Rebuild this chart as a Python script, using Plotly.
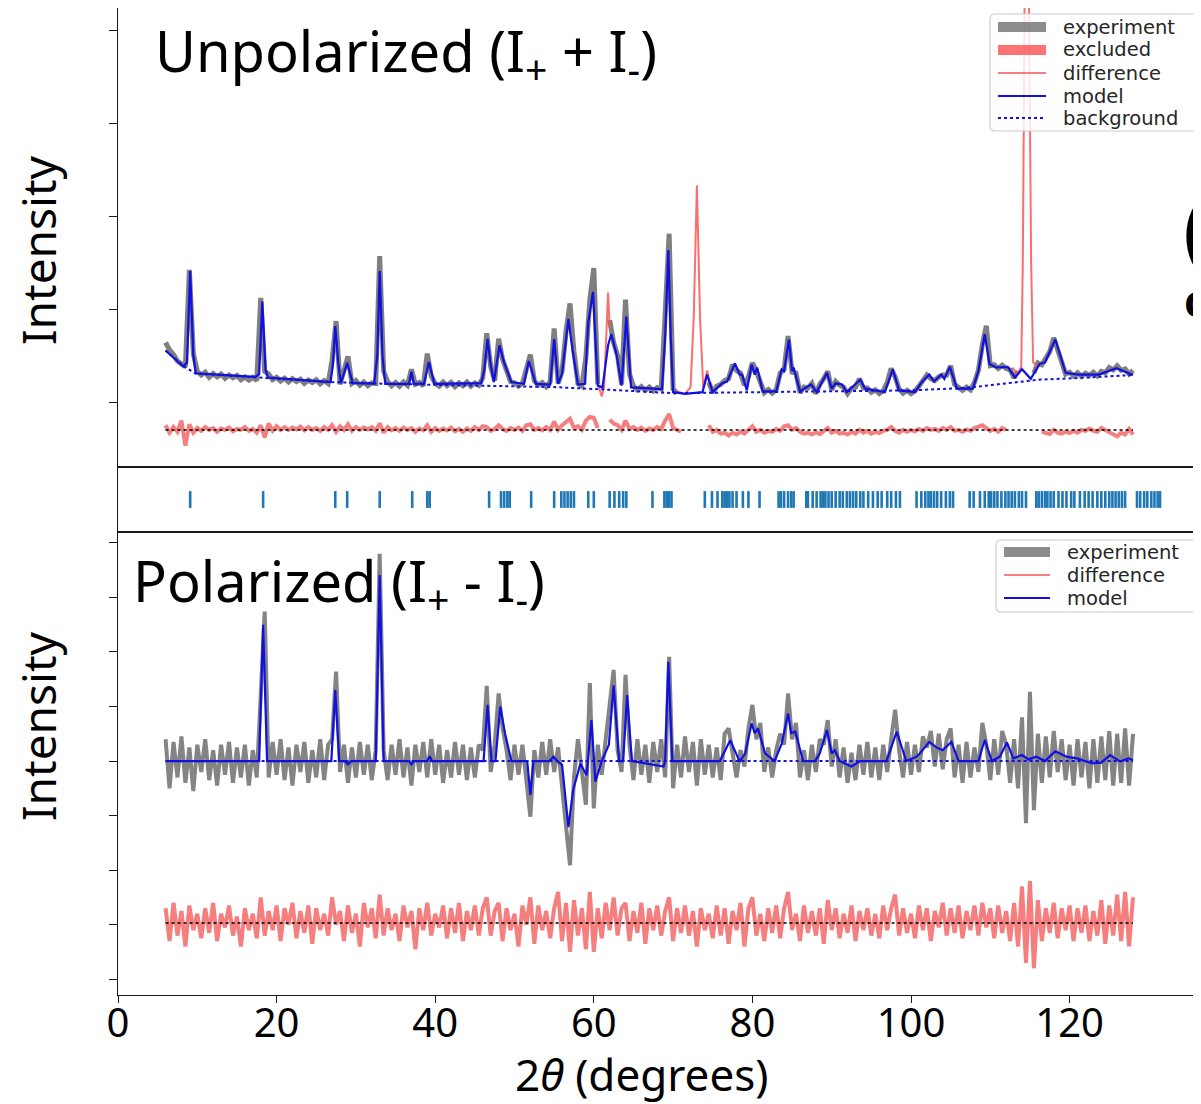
import plotly.graph_objects as go

# ============================ DATA ============================
# 2-theta sampling grid of the measured patterns (degrees)
GRID_START = 6.0
GRID_STEP = 0.5

# Unpolarized experiment (I+ + I-), one value per grid point (None = excluded)
UP_EXP = [
    640, 560, 510, 440, 410, 380, 1420, 520, 330, 290,
    320, 265, 305, 270, 300, 255, 290, 260, 285, 240,
    270, 235, 265, 230, 1120, 330, 300, 240, 265, 225,
    255, 215, 250, 220, 245, 200, 235, 210, 240, 195,
    230, 200, 450, 870, 190, 330, 490, 200, 230, 180,
    215, 175, 205, 200, 1570, 330, 220, 175, 210, 170,
    215, 180, 350, 190, 210, 175, 520, 280, 200, 170,
    215, 175, 210, 165, 205, 175, 215, 170, 205, 180,
    260, 740, 380, 230, 680, 460, 320, 220, 205, 170,
    200, 360, 510, 230, 180, 210, 165, 220, 790, 200,
    330, 760, 1060, 540, 200, 170, 480, 1100, 1440, 190,
    None, None, 880, 640, 500, 190, 1100, 300, 170, 130,
    165, 125, 160, 120, 155, 140, 950, 1810, 140, 95,
    None, None, None, None, None, None, None, 210, 100, 170,
    190, 230, 250, 400, 340, 310, 180, 270, 420, 330,
    210, 100, 135, 95, 130, 310, 350, 710, 320, 310,
    100, 160, 150, 200, 90, 190, 250, 330, 130, 220,
    180, 160, 90, 145, 160, 250, 150, 150, 105, 130,
    90, 120, 210, 360, 270, 140, 95, 125, 90, 120,
    170, 220, 290, 250, 230, 270, 290, 290, 390, 190,
    160, 125, 160, 130, 210, 340, 620, 820, 390, 400,
    360, 395, 360, 345, 260, 330, None, None, None, 310,
    420, 400, 460, 540, 690, 560, 440, 300, 320, 280,
    315, 275, 310, 285, 320, 280, 330, 315, 370, 345,
    390, 340, 355, 300, 340,
]

# Unpolarized difference curve (offset below the pattern)
UP_DIFF = [
    -250, -330, -270, -320, -200, -470, -240, -330, -280, -310,
    -270, -300, -280, -320, -285, -300, -275, -315, -290, -300,
    -270, -310, -290, -330, -250, -380, -230, -310, -260, -300,
    -270, -300, -275, -295, -265, -305, -270, -300, -280, -310,
    -270, -300, -250, -320, -260, -300, -240, -310, -270, -300,
    -275, -295, -270, -310, -230, -330, -270, -305, -280, -310,
    -275, -300, -280, -320, -285, -305, -250, -320, -280, -310,
    -285, -305, -275, -315, -290, -320, -285, -310, -270, -300,
    -260, -270, -310, -290, -250, -290, -310, -280, -300, -275,
    -310, -250, -240, -300, -280, -305, -270, -300, -210, -300,
    -250, -220, -180, -280, -260, -300, -200, -160, -170, -280,
    None, None, -190, -230, -250, -300, -200, -290, -270, -300,
    -275, -310, -285, -300, -270, -290, -200, -130, -280, -300,
    -320, None, None, None, None, None, None, -250, -320, -300,
    -340, -330, -360, -330, -350, -320, -340, -300, -260, -320,
    -300, -330, -310, -320, -290, -310, -260, -250, -300, -280,
    -320, -340, -330, -350, -325, -345, -310, -280, -330, -310,
    -340, -330, -350, -320, -340, -300, -330, -310, -340, -320,
    -335, -310, -300, -270, -310, -330, -300, -320, -300, -315,
    -290, -310, -280, -300, -290, -310, -280, -300, -270, -310,
    -300, -320, -295, -310, -280, -270, -250, -280, -310, -290,
    -320, -280, -300, None, None, None, None, None, None, None,
    None, -320, -330, -345, -300, -330, -340, -320, -335, -310,
    -330, -300, -310, -285, -310, -320, -280, -300, -330, -350,
    -370, -330, -350, -290, -350,
]

# Polarized experiment (I+ - I-)
LO_EXP = [
    40, -50, 35, -30, 45, -40, 25, -55, 30, -20,
    40, -35, 20, -45, 30, -25, 35, -40, 25, -30,
    30, -45, 20, -30, 120, 274, -30, 35, -25, 40,
    -35, 25, -45, 30, -20, 35, -40, 20, -30, 40,
    -35, 30, 40, 164, -20, 30, -40, 25, -30, 35,
    -25, 30, -35, 20, 380, 20, -35, 30, -25, 40,
    -30, 25, -45, 30, -20, 35, -30, 40, -25, 30,
    -40, 20, -30, 35, -25, 30, -35, 25, -30, 30,
    20, 138, -20, 30, 124, 60, 20, -35, 30, -25,
    30, -40, -102, 20, -30, 35, -25, 40, -20, 25,
    -40, -120, -191, -30, 40, -25, -80, 143, -87, 30,
    -25, 40, 100, 167, 20, -20, 158, 30, -35, 40,
    -25, 30, -40, 35, -20, 40, -30, 191, -50, 30,
    -30, 45, -20, 35, -45, 40, -25, 30, -30, 25,
    -35, 50, 60, 10, -30, 20, -10, 60, 103, 40,
    70, -20, 25, -30, 20, 50, 30, 124, 40, 70,
    -30, 20, -35, 30, -20, 40, 30, 75, -10, 40,
    -30, 25, -40, 15, -35, 30, -25, 35, -30, 25,
    -35, 30, -20, 40, 94, 20, -30, 35, -25, 30,
    -20, 45, 25, 55, -10, 50, -15, 40, 60, -30,
    30, -40, 35, -30, 25, -20, 70, 30, -35, 40,
    -25, 55, 30, -40, 40, -50, 80, -114, 127, -90,
    50, -40, 45, -30, 55, -20, 40, -35, 30, -45,
    40, -30, 35, -50, 40, -40, 45, -35, 55, -45,
    50, -40, 60, -45, 50,
]

# Polarized difference curve (offset below the pattern)
LO_DIFF = [
    -270, -330, -260, -320, -275, -340, -265, -310, -280, -325,
    -270, -315, -260, -330, -280, -305, -265, -320, -285, -340,
    -270, -310, -280, -325, -250, -320, -275, -310, -265, -330,
    -270, -300, -260, -325, -275, -315, -265, -335, -270, -310,
    -280, -320, -250, -300, -275, -330, -265, -315, -280, -340,
    -260, -305, -270, -325, -245, -320, -270, -310, -280, -330,
    -265, -305, -275, -345, -270, -310, -260, -320, -280, -305,
    -265, -325, -270, -315, -260, -330, -275, -310, -265, -320,
    -270, -250, -320, -275, -260, -330, -270, -310, -280, -340,
    -265, -300, -250, -335, -265, -310, -275, -325, -270, -240,
    -330, -260, -350, -255, -320, -270, -345, -240, -350, -270,
    -325, -260, -310, -250, -320, -270, -260, -330, -275, -315,
    -260, -335, -270, -310, -265, -320, -275, -250, -330, -270,
    -315, -265, -320, -275, -340, -270, -310, -280, -325, -265,
    -320, -270, -335, -275, -310, -260, -340, -270, -250, -320,
    -280, -330, -270, -315, -265, -325, -270, -240, -310, -280,
    -330, -265, -315, -275, -320, -270, -335, -255, -310, -270,
    -325, -280, -315, -265, -330, -275, -310, -270, -320, -280,
    -325, -265, -310, -270, -245, -320, -270, -315, -280, -325,
    -265, -310, -270, -330, -275, -305, -260, -320, -270, -315,
    -265, -325, -275, -310, -265, -320, -260, -305, -270, -325,
    -265, -315, -275, -330, -260, -340, -230, -370, -220, -380,
    -255, -330, -270, -315, -260, -325, -270, -310, -265, -330,
    -270, -315, -265, -330, -275, -320, -255, -335, -265, -320,
    -245, -330, -240, -340, -250,
]

# Fitted model, unpolarized: (2theta, intensity)
UP_MODEL = [
    (6.0, 554), (8.2, 384), (8.7, 420), (9.1, 1409), (9.5, 500), (9.8, 309),
    (17.3, 271), (17.8, 300), (18.2, 1081), (18.6, 350), (18.9, 263),
    (26.8, 214), (27.1, 400), (27.4, 817), (27.8, 400), (28.1, 202), (28.9, 421), (29.6, 202),
    (32.3, 197), (32.7, 500), (33.0, 1409), (33.35, 500), (33.7, 195),
    (36.7, 195), (37.0, 327), (37.3, 195), (38.6, 200), (39.2, 429), (39.9, 195),
    (45.8, 202), (46.2, 350), (46.6, 678), (47.0, 400), (47.4, 214), (48.1, 609), (48.7, 421), (49.6, 214),
    (51.2, 195), (51.8, 441), (52.7, 195), (54.5, 187), (55.0, 677), (55.5, 195),
    (56.0, 309), (56.8, 893), (57.3, 572), (58.0, 187), (58.9, 195), (59.3, 855), (59.9, 1184), (60.5, 176),
    (61.1, 157), (61.8, 609), (62.2, 731), (62.9, 497), (63.5, 176), (64.1, 919), (64.7, 157),
    (68.6, 139), (69.0, 700), (69.4, 1634), (69.7, 700), (70.0, 106), (71.5, 87), (73.7, 106),
    (74.3, 295), (75.0, 108), (76.2, 201), (76.8, 219), (77.8, 416), (78.4, 295), (78.7, 295), (79.3, 125),
    (79.9, 401), (80.3, 295), (80.6, 371), (81.3, 114), (83.0, 114), (83.7, 352), (84.0, 333), (84.6, 672),
    (85.0, 333), (85.2, 371), (86.0, 114), (87.4, 189), (88.1, 106), (89.4, 314), (90.0, 144), (90.5, 201),
    (91.3, 189), (91.9, 106), (93.6, 239), (94.2, 144), (95.4, 125), (96.7, 106), (97.7, 352), (98.5, 125),
    (100.5, 106), (101.4, 219), (102.3, 295), (102.9, 219), (103.8, 295), (104.2, 249), (104.9, 378),
    (105.8, 144), (107.8, 144), (108.5, 333), (109.3, 729), (109.9, 408), (110.7, 371), (112.2, 378),
    (113.1, 264), (114.0, 352), (115.1, 249), (116.2, 408), (116.9, 427), (118.2, 672), (119.5, 314),
    (121.1, 295), (123.7, 295), (125.9, 364), (127.3, 314), (128.0, 290),
]

# Background, unpolarized
UP_BACKGROUND = [
    (6.0, 554), (8.3, 384), (9.8, 305), (17.3, 268), (27.0, 214), (35.0, 193),
    (45.0, 180), (55.0, 160), (60.0, 140), (70.0, 95), (80.0, 105), (90.0, 112),
    (100.0, 125), (107.0, 152), (116.0, 239), (122.0, 262), (128.0, 290),
]

# Excluded regions of the unpolarized pattern
UP_EXCLUDED = [
    [(60.6, 170), (61.0, 60), (61.3, 160), (61.6, 700), (61.8, 1176), (62.0, 800)],
    [(70.6, 110), (71.5, 87), (72.2, 160), (72.6, 900), (73.0, 2332), (73.4, 900),
     (73.8, 160), (74.1, 260), (74.3, 340), (74.6, 190)],
    [(112.8, 370), (113.4, 300), (113.9, 380), (114.1, 1500), (114.35, 4600),
     (114.85, 4600), (115.15, 1500), (115.4, 430), (115.9, 380), (116.3, 420)],
]

# Fitted model, polarized
LO_MODEL = [
    (6.0, 0), (17.8, 0), (18.3, 250), (18.8, 0), (26.9, 0), (27.4, 130), (27.9, 0),
    (28.6, 0), (29.0, -6), (29.4, 0), (32.5, 0), (33.0, 341), (33.5, 0),
    (36.7, 0), (37.0, -6), (37.3, 0), (39.0, 0), (39.3, 9), (39.6, 0),
    (46.1, 0), (46.6, 103), (47.1, 0), (47.6, 0), (48.2, 100), (48.8, 51), (49.6, 0),
    (51.6, 0), (52.0, -62), (52.4, 0), (54.4, 0), (54.9, 8), (55.4, 0), (56.0, -7),
    (56.8, -121), (57.4, -53), (58.3, -5), (59.1, -26), (59.7, 75), (60.2, -38), (61.0, 0),
    (61.9, 30), (62.5, 139), (63.2, 0), (63.7, 0), (64.2, 121), (64.8, 0),
    (68.8, -10), (69.0, 0), (69.4, 182), (69.9, 0), (75.9, 0), (77.2, 38), (78.4, -1),
    (79.1, 14), (79.9, 69), (80.3, 51), (80.7, 60), (81.6, 14), (82.8, 0), (83.7, 32),
    (84.5, 87), (84.9, 51), (85.4, 54), (86.4, 0), (87.9, 0), (88.5, 14), (89.4, 57),
    (90.0, 14), (90.4, 20), (91.0, 0), (92.5, -10), (93.6, 0), (96.9, 0), (98.2, 54),
    (99.4, 0), (100.7, 8), (101.1, 14), (102.3, 35), (103.2, 25), (104.0, 20), (105.1, 35),
    (106.0, 0), (108.5, 0), (109.3, 39), (110.2, 0), (111.2, 8), (112.1, 34), (112.9, 5),
    (114.0, 11), (114.8, 3), (115.8, 8), (116.9, 0), (118.2, 18), (119.6, 8), (120.9, 5),
    (122.8, -4), (124.0, -3), (125.1, 11), (126.4, -1), (127.4, 5), (128.0, 2),
]
LO_BACKGROUND = [(6.0, 0), (128.0, 0)]

UP_DIFF_ZERO = -301
LO_DIFF_ZERO = -297

# Bragg reflection positions (degrees)
REFLECTIONS = [
    9.1, 18.3, 27.4, 28.9, 33.0, 37.1, 39.0, 39.3, 46.8, 48.3, 48.7, 49.1, 49.4, 52.1,
    55.0, 55.9, 56.3, 56.7, 57.1, 57.5, 59.3, 60.0, 62.0, 62.6, 63.2, 63.7, 64.1, 67.4,
    68.9, 69.2, 69.5, 69.8, 74.0, 74.9, 75.6, 76.2, 76.5, 76.8, 77.1, 77.5, 78.0, 78.8,
    79.5, 80.9, 83.3, 83.6, 84.0, 84.5, 84.9, 85.2, 86.8, 87.0, 87.6, 88.1, 88.6, 88.9,
    89.2, 89.6, 90.0, 90.5, 91.0, 91.4, 91.9, 92.3, 92.7, 93.1, 93.6, 94.0, 94.6, 95.2,
    95.8, 96.3, 97.0, 97.5, 98.1, 98.6, 100.7, 101.3, 101.8, 102.2, 102.5, 102.9, 103.3,
    103.8, 104.4, 104.9, 105.3, 107.4, 107.9, 108.7, 109.3, 109.8, 110.1, 110.5, 110.9,
    111.4, 111.9, 112.3, 112.7, 113.1, 113.6, 114.0, 114.5, 115.8, 116.1, 116.5, 116.9,
    117.2, 117.6, 118.0, 118.6, 119.1, 119.6, 120.2, 120.6, 121.3, 121.9, 122.4, 122.9,
    123.5, 124.0, 124.5, 125.0, 125.4, 125.8, 126.2, 126.6, 127.0, 128.5, 128.9, 129.4,
    129.8, 130.3, 130.7, 131.1, 131.4,
]

X_TICKS = [0, 20, 40, 60, 80, 100, 120]
UP_Y_TICKS = [0, 1000, 2000, 3000, 4000]
LO_Y_TICKS = [-400, -300, -200, -100, 0, 100, 200, 300, 400]

# ============================ LAYOUT HELPERS ============================
# The page body adds an 8 px margin, so the figure is made 8 px smaller and
# every page-pixel position is converted with that offset.
OFF = 8
W, H = 1193, 1096
ML, MR, MT, MB = 110, 0, 0, 109
X_RANGE = [0, 136.57]
UP_Y_RANGE = [-699, 4237]
LO_Y_RANGE = [-429, 420]
PW = W - ML - MR
PH = H - MT - MB


def fx(px):
    return (px - OFF - ML) / PW


def fy(py):
    return (H - MB - (py - OFF)) / PH


def unzip(pairs):
    return [p[0] for p in pairs], [p[1] for p in pairs]


def segments(list_of_pairs):
    xs, ys = [], []
    for seg in list_of_pairs:
        a, b = unzip(seg)
        xs += a + [None]
        ys += b + [None]
    return xs, ys


grid = [GRID_START + GRID_STEP * i for i in range(len(UP_EXP))]

GRAY = "rgba(105,105,105,0.85)"
RED = "rgba(242,95,95,0.8)"
BLUE = "#1010e0"
TICKBLUE = "#1f77b4"
FRAME = "#1a1a1a"

fig = go.Figure()

# ---------------- upper panel ----------------
fig.add_trace(go.Scatter(x=grid, y=UP_EXP, mode="lines", xaxis="x", yaxis="y",
                         line=dict(color=GRAY, width=5), connectgaps=False, name="experiment"))
ex_x, ex_y = segments(UP_EXCLUDED)
fig.add_trace(go.Scatter(x=ex_x, y=ex_y, mode="lines", xaxis="x", yaxis="y",
                         line=dict(color="rgba(250,85,85,0.85)", width=2), name="excluded"))
bx, by = unzip(UP_BACKGROUND)
fig.add_trace(go.Scatter(x=bx, y=by, mode="lines", xaxis="x", yaxis="y",
                         line=dict(color=BLUE, width=2, dash="dot"), name="background"))
mx, my = unzip(UP_MODEL)
fig.add_trace(go.Scatter(x=mx, y=my, mode="lines", xaxis="x", yaxis="y",
                         line=dict(color=BLUE, width=2.2), name="model"))
fig.add_trace(go.Scatter(x=grid, y=UP_DIFF, mode="lines", xaxis="x", yaxis="y",
                         line=dict(color=RED, width=4), connectgaps=False,
                         name="difference"))
fig.add_trace(go.Scatter(x=[grid[0], grid[-1]], y=[UP_DIFF_ZERO] * 2, mode="lines",
                         xaxis="x", yaxis="y", line=dict(color="black", width=1.5, dash="dot")))

# ---------------- reflection ticks ----------------
fig.add_trace(go.Scatter(x=REFLECTIONS, y=[0.5] * len(REFLECTIONS), mode="markers",
                         xaxis="x2", yaxis="y2",
                         marker=dict(symbol="line-ns", size=12, color=TICKBLUE,
                                     line=dict(color=TICKBLUE, width=2.6))))

# ---------------- lower panel ----------------
fig.add_trace(go.Scatter(x=grid, y=LO_EXP, mode="lines", xaxis="x3", yaxis="y3",
                         line=dict(color="rgba(110,110,110,0.85)", width=4), name="experiment"))
lbx, lby = unzip(LO_BACKGROUND)
fig.add_trace(go.Scatter(x=lbx, y=lby, mode="lines", xaxis="x3", yaxis="y3",
                         line=dict(color=BLUE, width=2, dash="dot")))
lmx, lmy = unzip(LO_MODEL)
fig.add_trace(go.Scatter(x=lmx, y=lmy, mode="lines", xaxis="x3", yaxis="y3",
                         line=dict(color=BLUE, width=2.2), name="model"))
fig.add_trace(go.Scatter(x=grid, y=LO_DIFF, mode="lines", xaxis="x3", yaxis="y3",
                         line=dict(color=RED, width=4), name="difference"))
fig.add_trace(go.Scatter(x=[grid[0], grid[-1]], y=[LO_DIFF_ZERO] * 2, mode="lines",
                         xaxis="x3", yaxis="y3", line=dict(color="black", width=1.5, dash="dot")))

# ---------------- axes ----------------
xcommon = dict(range=X_RANGE, showgrid=False, zeroline=False, showline=True, mirror=True,
               linecolor=FRAME, linewidth=1.4, domain=[0, 1])
ycommon = dict(showgrid=False, zeroline=False, showline=True, linecolor=FRAME, linewidth=1.4,
               showticklabels=False)

fig.update_layout(
    width=W, height=H,
    margin=dict(l=ML, r=MR, t=MT, b=MB),
    paper_bgcolor="white", plot_bgcolor="white",
    showlegend=False,
    xaxis=dict(**xcommon, anchor="y", showticklabels=False, ticks=""),
    yaxis=dict(**ycommon, domain=[fy(467), 1.0], range=UP_Y_RANGE, anchor="x",
               tickvals=UP_Y_TICKS, ticks="outside", ticklen=8, tickcolor=FRAME, tickwidth=1.3),
    xaxis2=dict(**xcommon, anchor="y2", matches="x", showticklabels=False, ticks=""),
    yaxis2=dict(**ycommon, domain=[fy(532), fy(467)], range=[0, 1], anchor="x2", ticks=""),
    xaxis3=dict(**xcommon, anchor="y3", matches="x", tickvals=X_TICKS, ticks="outside",
                ticklen=7, tickcolor=FRAME, tickwidth=1.3, ticklabelstandoff=-14,
                tickfont=dict(family="Noto Sans", size=40, color="black")),
    yaxis3=dict(**ycommon, domain=[0, fy(532)], range=LO_Y_RANGE, anchor="x3",
                tickvals=LO_Y_TICKS, ticks="outside", ticklen=8, tickcolor=FRAME, tickwidth=1.3),
)

# ---------------- text ----------------
ann = []
BIG = dict(family="Noto Sans", color="black")
ann.append(dict(text="Unpolarized (I<sub>+</sub> + I<sub>-</sub>)", x=fx(153), y=fy(54),
                xanchor="left", yanchor="middle", font=dict(size=56, **BIG)))
ann.append(dict(text="Polarized (I<sub>+</sub> - I<sub>-</sub>)", x=fx(131), y=fy(583),
                xanchor="left", yanchor="middle", font=dict(size=56, **BIG)))
ann.append(dict(text="Intensity", x=fx(38), y=fy(250), textangle=-90,
                xanchor="center", yanchor="middle", font=dict(size=46, **BIG)))
ann.append(dict(text="Intensity", x=fx(38), y=fy(726), textangle=-90,
                xanchor="center", yanchor="middle", font=dict(size=46, **BIG)))
ann.append(dict(text="2<i>θ</i> (degrees)", x=fx(642), y=fy(1074),
                xanchor="center", yanchor="middle", font=dict(size=44, **BIG)))
# fragments of a neighbouring panel cut by the right edge
ann.append(dict(text="(", x=fx(1181), y=fy(228), xanchor="left", yanchor="middle",
                font=dict(size=84, family="Noto Sans", color="black")))
ann.append(dict(text="<b>c</b>", x=fx(1182), y=fy(300), xanchor="left", yanchor="middle",
                font=dict(size=44, family="Noto Sans", color="black")))
ann.append(dict(text="F", x=fx(1190), y=fy(411), xanchor="left", yanchor="middle",
                font=dict(size=38, family="Noto Sans", color="#444444")))

# ---------------- hand-drawn legends ----------------
shapes = []
LEGFONT = dict(family="DejaVu Sans", size=19.5, color="#262626")


def rounded_box(x0, y0, x1, y1, r=5):
    X0, X1 = fx(x0), fx(x1)
    Y0, Y1 = fy(y0), fy(y1)
    rx = r / PW
    ry = r / PH
    p = (f"M {X0 + rx},{Y0} L {X1 - rx},{Y0} Q {X1},{Y0} {X1},{Y0 - ry} "
         f"L {X1},{Y1 + ry} Q {X1},{Y1} {X1 - rx},{Y1} L {X0 + rx},{Y1} "
         f"Q {X0},{Y1} {X0},{Y1 + ry} L {X0},{Y0 - ry} Q {X0},{Y0} {X0 + rx},{Y0} Z")
    return dict(type="path", path=p, xref="paper", yref="paper",
                fillcolor="rgba(255,255,255,0.82)", line=dict(color="#cccccc", width=1.2),
                layer="above")


def patch(x0, x1, yc, color):
    return dict(type="rect", xref="paper", yref="paper", x0=fx(x0), x1=fx(x1),
                y0=fy(yc + 5), y1=fy(yc - 5), fillcolor=color, line=dict(width=0), layer="above")


def hline(x0, x1, yc, color, dash="solid"):
    return dict(type="line", xref="paper", yref="paper", x0=fx(x0), x1=fx(x1),
                y0=fy(yc), y1=fy(yc), line=dict(color=color, width=2, dash=dash), layer="above")


UP_LEG = ["experiment", "excluded", "difference", "model", "background"]
up_rows = [27, 50, 73, 96, 118]
shapes.append(rounded_box(990, 14, 1196, 131))
shapes.append(patch(998, 1046, up_rows[0], "rgba(120,120,120,0.85)"))
shapes.append(patch(998, 1046, up_rows[1], "rgba(250,90,90,0.85)"))
shapes.append(hline(998, 1046, up_rows[2], RED))
shapes.append(hline(998, 1046, up_rows[3], BLUE))
shapes.append(hline(998, 1046, up_rows[4], BLUE, "dot"))
for lab, r in zip(UP_LEG, up_rows):
    ann.append(dict(text=lab, x=fx(1061), y=fy(r), xanchor="left", yanchor="middle",
                    font=LEGFONT))

LO_LEG = ["experiment", "difference", "model"]
lo_rows = [552, 575, 598]
shapes.append(rounded_box(996, 540, 1197, 612))
shapes.append(patch(1004, 1050, lo_rows[0], "rgba(120,120,120,0.85)"))
shapes.append(hline(1004, 1050, lo_rows[1], RED))
shapes.append(hline(1004, 1050, lo_rows[2], BLUE))
for lab, r in zip(LO_LEG, lo_rows):
    ann.append(dict(text=lab, x=fx(1065), y=fy(r), xanchor="left", yanchor="middle",
                    font=LEGFONT))

for a in ann:
    a.setdefault("xref", "paper")
    a.setdefault("yref", "paper")
    a.setdefault("showarrow", False)

fig.update_layout(annotations=ann, shapes=shapes)
fig.write_html("out.html")
